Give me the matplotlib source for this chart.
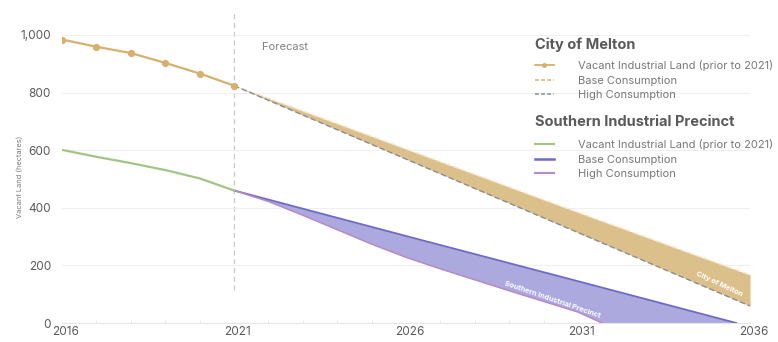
import matplotlib
matplotlib.use("Agg")
import matplotlib.pyplot as plt
import matplotlib.transforms as mtransforms
from matplotlib.lines import Line2D
import numpy as np

plt.rcParams['font.family'] = ['Inter', 'DejaVu Sans']

# City of Melton
melton_hist_years = [2016, 2017, 2018, 2019, 2020, 2021]
melton_hist = [984, 959, 937, 903, 866, 824]
melton_fc_years = [2021, 2026, 2031, 2036]
melton_base = [824, 604, 384, 167]
melton_high = [824, 569, 314, 59]

# Southern Industrial Precinct
sip_hist_years = [2016, 2017, 2018, 2019, 2020, 2021]
sip_hist = [601, 577, 555, 531, 502, 460]
sip_base_years = [2021, 2026, 2031, 2035.6]
sip_base = [460, 302, 145, 0]
sip_high_years = [2021, 2022, 2023, 2024, 2025, 2026, 2027, 2028, 2029, 2030, 2031, 2031.7, 2035.6]
sip_high = [460, 422, 374, 324, 274, 228, 188, 150, 112, 75, 38, 0, 0]

year_ticks = [2016, 2021, 2026, 2031, 2036]
value_ticks = [0, 200, 400, 600, 800, 1000]
value_labels = ['0', '200', '400', '600', '800', '1,000']
legend_labels = ['Vacant Industrial Land (prior to 2021)', 'Base Consumption', 'High Consumption']

c_melton = '#d6b06e'
c_melton_fill = '#dcc08b'
c_grey = '#8c8c8c'
c_green = '#a2c585'
c_sip_fill = '#aca9de'
c_sip_base = '#6e6ac6'
c_sip_high = '#b98ac8'
c_text = '#5a5a5a'

fig = plt.figure(figsize=(7.78, 3.42), dpi=100)
ax = fig.add_axes([62 / 778, 19 / 342, 688 / 778, 314 / 342])

# bands
ax.fill_between(melton_fc_years, melton_base, melton_high, color=c_melton_fill, lw=0, zorder=2)
ax.plot(melton_fc_years, melton_base, color='#f3e6cc', lw=1, ls=(0, (4, 2)), zorder=3)
ax.plot(melton_fc_years, melton_high, color=c_grey, lw=1, ls=(0, (4, 2)), zorder=3)

xs = np.linspace(2021, 2035.6, 300)
b = np.interp(xs, sip_base_years, sip_base)
h = np.interp(xs, sip_high_years, sip_high)
ax.fill_between(xs, b, h, color=c_sip_fill, lw=0, zorder=2)
ax.plot(sip_base_years, sip_base, color=c_sip_base, lw=1.3, zorder=3)
ax.plot(sip_high_years[:-1], sip_high[:-1], color=c_sip_high, lw=1.1, zorder=3)

# history
ax.plot(melton_hist_years, melton_hist, color=c_melton, lw=1.6, marker='o', ms=4.2, zorder=4)
ax.plot(sip_hist_years, sip_hist, color=c_green, lw=1.6, zorder=4)

# forecast divider
ax.plot([2021, 2021], [115, 1076], color='#c8c8c8', lw=0.9, ls=(0, (4, 3)), zorder=1)
ax.text(2021.8, 958, 'Forecast', color='#808080', fontsize=8, va='center', ha='left')

ax.text(2030.25, 83, 'Southern Industrial Precinct', color='white', fontsize=5.3,
        fontweight='bold', rotation=-19, ha='center', va='center', zorder=5)
ax.text(2035.1, 135, 'City of Melton', color='white', fontsize=5.3,
        fontweight='bold', rotation=-25, ha='center', va='center', zorder=5)

ax.set_xlim(2016, 2036)
ax.set_ylim(0, 1090)
ax.set_xticks(year_ticks)
ax.set_xticks(range(2016, 2037), minor=True)
ax.set_yticks(value_ticks)
ax.set_yticklabels(value_labels)
ax.grid(axis='y', color='#efefef', lw=0.8, zorder=0)
for s in ['top', 'right', 'left']:
    ax.spines[s].set_visible(False)
ax.spines['bottom'].set_color('#e6e6e6')
ax.tick_params(axis='y', length=0, pad=8, labelsize=8.5, labelcolor=c_text)
ax.tick_params(axis='x', which='major', length=0, pad=2, labelsize=8.5, labelcolor=c_text)
ax.tick_params(axis='x', which='minor', direction='in', length=2.5, color='#dddddd')
off = mtransforms.ScaledTranslation(4 / 100, 0, fig.dpi_scale_trans)
for lab in ax.get_xticklabels():
    lab.set_transform(lab.get_transform() + off)

fig.text(20 / 778, 1 - 177 / 342, 'Vacant Land (hectares)', rotation=90, fontsize=5.3,
         color='#777777', ha='center', va='center')

# legends
h1 = [Line2D([], [], color=c_melton, lw=1.3, marker='o', ms=2.5),
      Line2D([], [], color=c_melton, lw=1.1, ls=(0, (2.5, 1.5))),
      Line2D([], [], color=c_grey, lw=1.1, ls=(0, (2.5, 1.5)))]
h2 = [Line2D([], [], color=c_green, lw=1.5),
      Line2D([], [], color=c_sip_base, lw=1.8),
      Line2D([], [], color=c_sip_high, lw=1.5)]
common = dict(loc='upper left', bbox_transform=fig.transFigure, frameon=False, fontsize=8.0,
              labelcolor='#777777', handlelength=1.7, handletextpad=2.2, labelspacing=0.42,
              borderpad=0, borderaxespad=0)
leg1 = ax.legend(h1, legend_labels, bbox_to_anchor=(535 / 778, 1 - 60 / 342), **common)
ax.add_artist(leg1)
leg2 = ax.legend(h2, legend_labels, bbox_to_anchor=(535 / 778, 1 - 139 / 342), **common)

fig.text(535 / 778, 1 - 45 / 342, 'City of Melton', fontsize=10.5, fontweight='bold',
         color=c_text, ha='left', va='center')
fig.text(535 / 778, 1 - 122 / 342, 'Southern Industrial Precinct', fontsize=10.5,
         fontweight='bold', color=c_text, ha='left', va='center')

fig.savefig('out.png', dpi=100)
